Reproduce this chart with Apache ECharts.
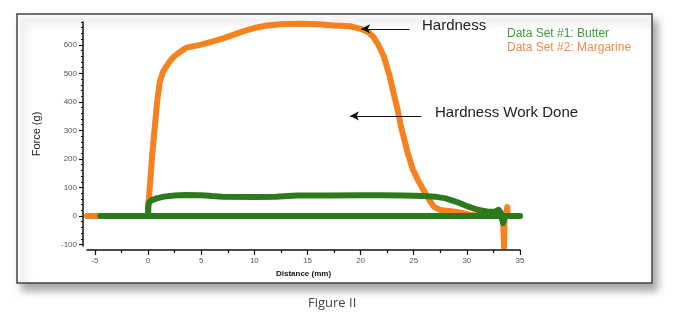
<!DOCTYPE html>
<html><head><meta charset="utf-8">
<script src="https://cdn.jsdelivr.net/npm/echarts@6/dist/echarts.min.js"></script>
<style>html,body{margin:0;padding:0;background:#fff}#c{width:679px;height:323px}</style>
</head><body><div id="c"></div>
<script>
// Data Set #2: Margarine (distance mm, force g)
const margX = [-5.75,0,0.05,0.2,0.4,0.6,0.85,1.1,1.4,2,2.4,3,3.6,4.9,6.1,7,8,9,9.9,11.2,12.5,14.3,16,17.5,19,20,20.7,21.2,21.7,22.2,22.7,23.1,23.5,23.8,24.1,24.4,24.9,25.4,25.9,26.3,26.6,26.9,27.5,28.5,29.5,30.2,31,33,33.4,33.5,33.55,33.7,33.8,33.85,35];
const margY = [0,0,50,120,220,300,400,470,505,540,558,575,590,600,612,622,635,648,658,668,672,674,672,668,665,656,645,628,598,558,495,431,370,313,270,225,165,126,92,67,48,32,21,17,12,5,2,0,-5,-110,0,10,32,0,0];
// Data Set #1: Butter (distance mm, force g)
const butterX = [-4.5,0,0,0.05,0.3,0.8,1.5,2.5,3.5,5,6,7,10,12,14,17,20,22,24,26,27,28,29,30,31,32,32.7,33,33.2,33.4,33.6,35,-4.5];
const butterY = [0,0,30,45,55,62,68,72,74,73,70,68,67,68,72,72,73,73,72,70,68,62,50,35,22,15,16,22,10,-25,0,0,0];
// Axis ticks
const xMajor = [-5,0,5,10,15,20,25,30,35];
const xMinor = [-2.5,2.5,7.5,12.5,17.5,22.5,27.5,32.5];
const yMajor = [-100,0,100,200,300,400,500,600];
const yMinor = [-100,-80,-60,-40,-20,0,20,40,60,80,100,120,140,160,180,200,220,240,260,280,300,320,340,360,380,400,420,440,460,480,500,520,540,560,580,600,620,640,660,680];
// Annotations
const hardnessArrow = [[24.6,656],[20.05,656]];
const workArrow = [[25.7,351],[19.0,351]];

const toPairs = (xs, ys) => xs.map((x,i)=>[x,ys[i]]);
const GREEN = '#2b7a1e', ORANGE = '#f5821f';
const chart = echarts.init(document.getElementById('c'));
const axisFont = {fontFamily:'Liberation Sans, Arial, sans-serif', fontSize:8, color:'#555'};
chart.setOption({
  animation:false,
  grid:{left:87,right:159,top:22,bottom:77},
  legend:{
    orient:'vertical', left:497, top:23, itemWidth:0, itemHeight:0, itemGap:2, icon:'rect',
    selectedMode:false,
    textStyle:{fontFamily:'Liberation Sans, Arial, sans-serif', fontSize:12},
    data:[{name:'Data Set #1: Butter', textStyle:{color:'#3c9a3c'}},
          {name:'Data Set #2: Margarine', textStyle:{color:'#f28a48'}}]
  },
  xAxis:[{
    type:'value', min:-5.75, max:35, offset:4,
    name:'Distance (mm)', nameLocation:'middle', nameGap:17,
    nameTextStyle:{fontFamily:'Liberation Sans, Arial, sans-serif', fontSize:8, fontWeight:'bold', color:'#111'},
    axisLine:{show:true,onZero:false,lineStyle:{color:'#111',width:1.5}},
    axisTick:{show:true,length:5,customValues:xMajor,lineStyle:{color:'#111',width:1.2}},
    axisLabel:{show:true,customValues:xMajor,margin:7,...axisFont},
    splitLine:{show:false}
  },{
    type:'value', min:-5.75, max:35, offset:4, position:'bottom',
    axisLine:{show:false,onZero:false}, axisLabel:{show:false}, splitLine:{show:false},
    axisTick:{show:true,length:3,customValues:xMinor,lineStyle:{color:'#111',width:1.2}}
  }],
  yAxis:[{
    type:'value', min:-105, max:680, offset:4,
    name:'Force (g)', nameLocation:'middle', nameGap:41, nameRotate:90,
    nameTextStyle:{fontFamily:'Liberation Sans, Arial, sans-serif', fontSize:11, color:'#222'},
    axisLine:{show:true,onZero:false,lineStyle:{color:'#111',width:1.5}},
    axisTick:{show:true,length:4,customValues:yMajor,lineStyle:{color:'#111',width:1.2}},
    axisLabel:{show:true,customValues:yMajor,margin:6,...axisFont},
    splitLine:{show:false}
  },{
    type:'value', min:-105, max:680, offset:4, position:'left',
    axisLine:{show:false,onZero:false}, axisLabel:{show:false}, splitLine:{show:false},
    axisTick:{show:true,length:2,customValues:yMinor,lineStyle:{color:'#111',width:1}}
  }],
  series:[{
    name:'Data Set #2: Margarine', type:'line', symbol:'none', color:ORANGE,
    data:toPairs(margX,margY), lineStyle:{width:6,color:ORANGE,cap:'round',join:'round'}, z:2,
    markLine:{silent:true, symbol:['none','arrow'], symbolSize:[7,9], label:{show:false},
      lineStyle:{color:'#111',width:1,type:'solid'},
      data:[[{coord:hardnessArrow[0]},{coord:hardnessArrow[1]}],[{coord:workArrow[0]},{coord:workArrow[1]}]]}
  },{
    name:'Data Set #1: Butter', type:'line', symbol:'none', color:GREEN,
    data:toPairs(butterX,butterY), lineStyle:{width:6,color:GREEN,cap:'round',join:'round'}, z:3
  }],
  graphic:[
    {type:'rect', z:-10, shape:{x:17,y:14,width:635,height:269},
      style:{fill:'#fff',stroke:'#444',lineWidth:1.5,shadowBlur:8,shadowOffsetX:5,shadowOffsetY:7,shadowColor:'rgba(0,0,0,0.35)'}},
    {type:'text', left:422, top:18, z:10, style:{text:'Hardness', font:'15px "Liberation Sans", Arial, sans-serif', fill:'#222'}},
    {type:'text', left:435, top:105, z:10, style:{text:'Hardness Work Done', font:'15px "Liberation Sans", Arial, sans-serif', fill:'#222'}},
    {type:'text', left:308, top:297, z:10, style:{text:'Figure II', font:'13px "Open Sans", "Noto Sans", sans-serif', fill:'#444'}}
  ]
});
</script></body></html>
